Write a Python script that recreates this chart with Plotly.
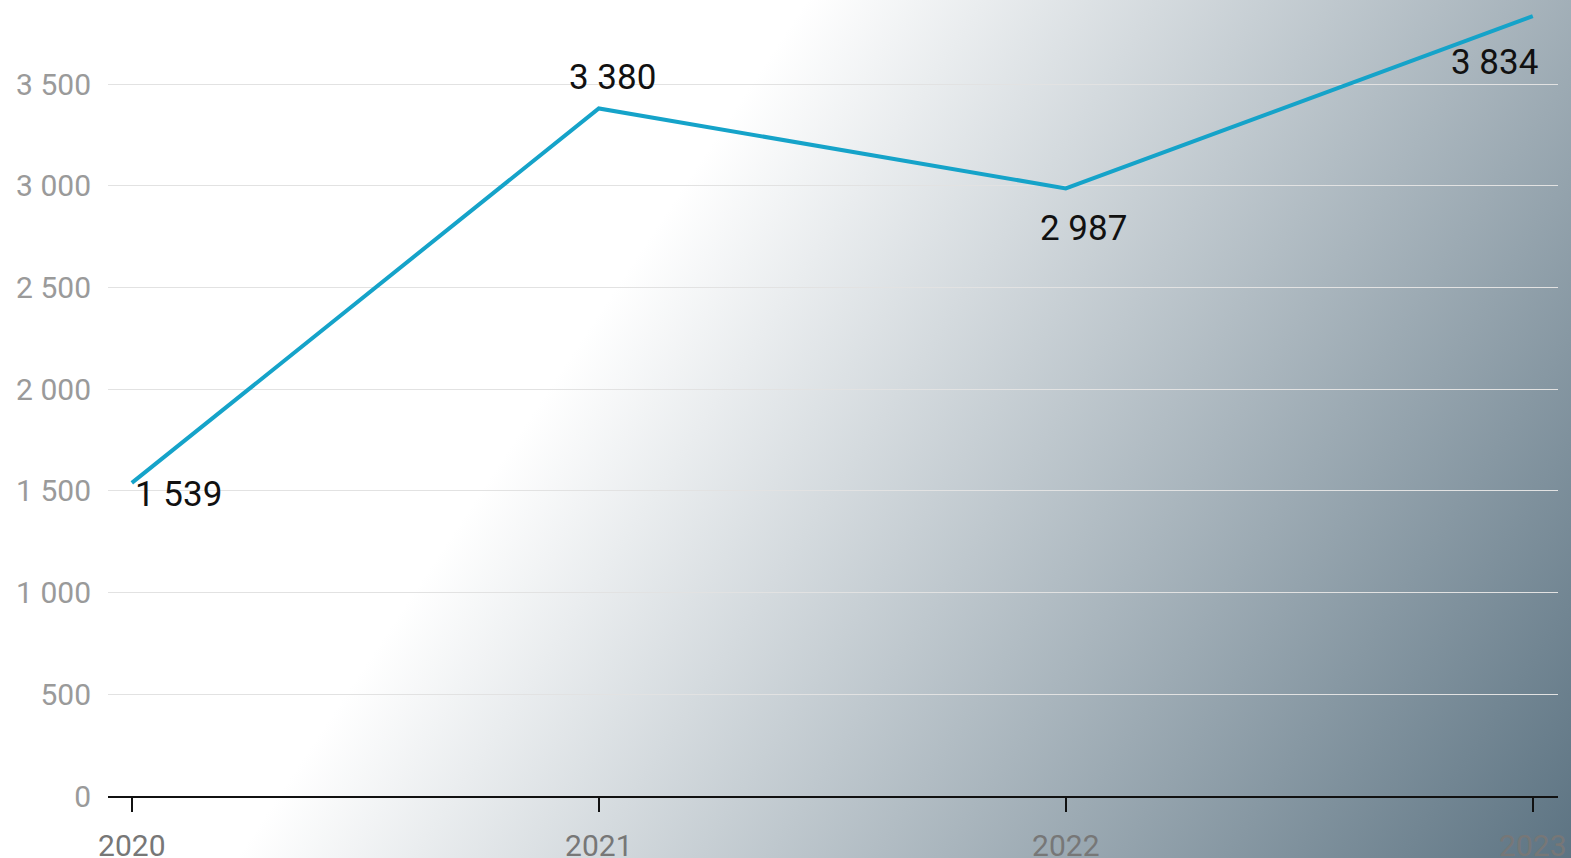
import base64
import plotly.graph_objects as go

years = [2020, 2021, 2022, 2023]
values = [1539, 3380, 2987, 3834]
y_ticks = [0, 500, 1000, 1500, 2000, 2500, 3000, 3500]

# label offsets (px) for each point label
label_shift = [(47, -12), (14, 31), (18, -40), (-38, -46)]

W, H = 1571, 858
ML, MR, MT, MB = 108, 13, 0, 62

# diagonal background gradient, drawn as an svg image covering the whole figure
svg = f"""<svg xmlns="http://www.w3.org/2000/svg" width="{W}" height="{H}" viewBox="0 0 {W} {H}" preserveAspectRatio="none">
<defs><linearGradient id="g" gradientUnits="userSpaceOnUse" x1="560" y1="372" x2="1490" y2="990">
<stop offset="0" stop-color="#ffffff"/><stop offset="1" stop-color="#5c7382"/>
</linearGradient></defs>
<rect x="0" y="0" width="{W}" height="{H}" fill="url(#g)"/></svg>"""
bg_src = "data:image/svg+xml;base64," + base64.b64encode(svg.encode()).decode()

pw = W - ML - MR
ph = H - MT - MB

fig = go.Figure()
fig.add_trace(go.Scatter(
    x=years, y=values, mode="lines",
    line=dict(color="#15a3c9", width=4),
    cliponaxis=False, hoverinfo="skip", showlegend=False,
))

for x, v, (dx, dy) in zip(years, values, label_shift):
    fig.add_annotation(
        x=x, y=v, text=f"{v:,}".replace(",", " "), showarrow=False,
        xanchor="center", yanchor="middle", xshift=dx, yshift=dy,
        font=dict(family="Roboto", size=35, color="#111111"),
    )

fig.add_layout_image(dict(
    source=bg_src, xref="paper", yref="paper",
    x=-ML / pw, y=1 + MT / ph, sizex=W / pw, sizey=H / ph,
    xanchor="left", yanchor="top", sizing="stretch", layer="below",
))

fig.update_xaxes(
    range=[2019.949, 2023.054], tickvals=years, showgrid=False, zeroline=False,
    showline=True, linecolor="#111111", linewidth=2, automargin=False,
    ticks="outside", ticklen=14, tickwidth=2, tickcolor="#111111",
    ticklabelstandoff=8,
    tickfont=dict(family="Roboto", size=30, color="#777777"),
)
fig.update_yaxes(
    range=[0, 3913], tickvals=y_ticks, showgrid=True, gridcolor="#e2e2e2",
    gridwidth=1, zeroline=False, showline=False, separatethousands=True,
    automargin=False, ticks="outside", ticklen=10, tickcolor="rgba(0,0,0,0)",
    tickfont=dict(family="Roboto", size=30, color="#9a9a9a"),
)
fig.update_layout(
    width=W, height=H, separators=". ",
    margin=dict(l=ML, r=MR, t=MT, b=MB),
    paper_bgcolor="rgba(0,0,0,0)", plot_bgcolor="rgba(0,0,0,0)",
    font=dict(family="Roboto"),
)

fig.write_html("out.html", config={"displayModeBar": False},
               post_script="document.body.style.margin='0';")
